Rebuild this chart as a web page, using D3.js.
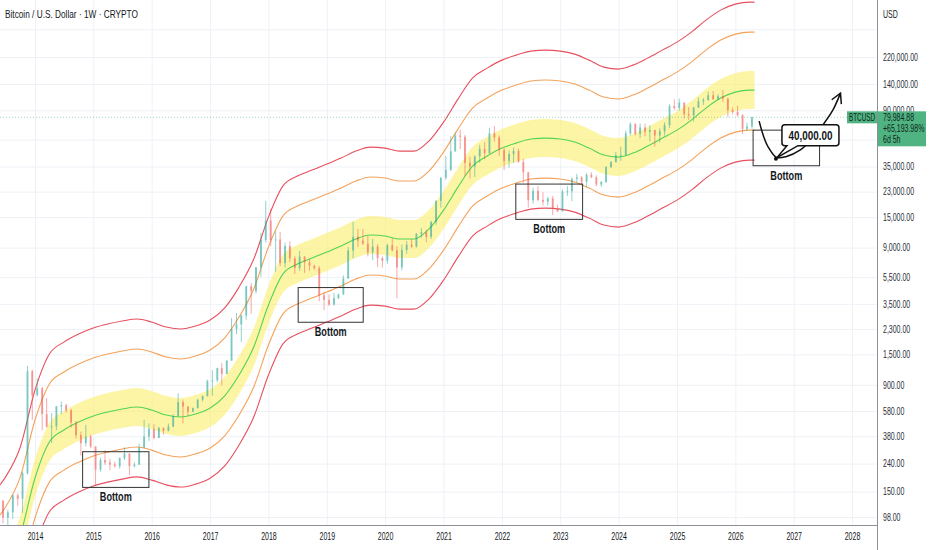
<!DOCTYPE html>
<html lang="en">
<head>
<meta charset="UTF-8">
<title>Bitcoin / U.S. Dollar · 1W · CRYPTO</title>
<script src="https://cdnjs.cloudflare.com/ajax/libs/d3/7.8.5/d3.min.js"></script>
<style>
	body { margin: 0; background: #fff; }
	svg { display: block; font-family: "Liberation Sans", Arial, sans-serif; }
	.axis path { display: none; }
	.axis text { fill: #2a2e39; font-size: 10.5px; }
	.grid line { stroke: #eef1f6; }
	.grid path { display: none; }
	.note { font-weight: bold; font-size: 13px; fill: #131722; }
</style>
</head>
<body>
<div id="chart"></div>
<script>
	// ---- data ----
	const yearTicks = [2014, 2015, 2016, 2017, 2018, 2019, 2020, 2021, 2022, 2023, 2024, 2025, 2026, 2027, 2028];
	const priceTicks = [98, 150, 240, 380, 580, 900, 1500, 2300, 3500, 5500, 9000, 15000, 23000, 35000, 90000, 140000, 220000];
	const gridOnly = [55000, 350000];

	// band indicator, sampled every quarter
	const bandDates = ["2013-05-01","2013-07-01","2013-10-01","2014-01-01","2014-04-01","2014-07-01","2014-10-01",
		"2015-01-01","2015-04-01","2015-07-01","2015-10-01","2016-01-01","2016-04-01","2016-07-01","2016-10-01",
		"2017-01-01","2017-04-01","2017-07-01","2017-10-01","2018-01-01","2018-04-01","2018-07-01","2018-10-01",
		"2019-01-01","2019-04-01","2019-07-01","2019-10-01","2020-01-01","2020-04-01","2020-07-01","2020-10-01",
		"2021-01-01","2021-04-01","2021-07-01","2021-10-01","2022-01-01","2022-04-01","2022-07-01","2022-10-01",
		"2023-01-01","2023-04-01","2023-07-01","2023-10-01","2024-01-01","2024-04-01","2024-07-01","2024-10-01",
		"2025-01-01","2025-04-01","2025-07-01","2025-10-01","2026-01-01","2026-04-01","2026-05-01"];
	const midLine = [35.2, 43.8, 72.5, 188.5, 344.7, 421.4, 482.1, 533.1, 570.2, 599.6, 620.1, 589.6, 542.2, 524.4, 551.3,
		609.8, 745.7, 1060, 1696, 3430, 5769, 6822, 7544, 8343, 9226, 10375, 11095, 10910, 10375, 10375, 12269,
		16876, 24808, 35290, 41740, 47730, 51900, 55520, 56460, 55520, 52780, 47730, 42450, 41050, 43890, 49350, 56460,
		64530, 76330, 93350, 110400, 122050, 126250, 126250];
	const yellowTop = [48.4, 60.2, 99.7, 259, 474, 579, 663, 733, 784, 824, 853, 811, 746, 721, 758,
		838, 1025, 1458, 2332, 4716, 7932, 9380, 10373, 11472, 12686, 14266, 15256, 15001, 14266, 14266, 16870,
		23205, 34111, 48524, 57393, 65629, 71363, 76340, 77633, 76340, 72573, 65629, 58369, 56444, 60349, 67856, 77633,
		88729, 104954, 128356, 151800, 167819, 173594, 173594];
	const yellowBottom = [25.6, 31.9, 52.7, 137, 251, 306, 351, 388, 415, 436, 451, 429, 394, 381, 401,
		443, 542, 771, 1233, 2495, 4196, 4962, 5487, 6068, 6710, 7546, 8069, 7935, 7546, 7546, 8923,
		12274, 18043, 25666, 30357, 34714, 37747, 40380, 41063, 40380, 38387, 34714, 30874, 29856, 31921, 35892, 41063,
		46933, 55515, 67894, 80294, 88767, 91821, 91821];
	const orangeTop = [93.1, 116, 192, 499, 912, 1115, 1276, 1411, 1509, 1587, 1641, 1560, 1435, 1388, 1459,
		1614, 1973, 2805, 4488, 9076, 15265, 18051, 19961, 22076, 24412, 27452, 29357, 28868, 27452, 27452, 32464,
		44654, 65642, 93377, 110444, 126294, 137327, 146906, 149393, 146906, 139656, 126294, 112323, 108618, 116133, 130580, 149393,
		170746, 201969, 247004, 292118, 322944, 334058, 334058];
	const orangeBottom = [18.0, 22.4, 37.1, 96.4, 176, 215, 246, 273, 291, 307, 317, 301, 277, 268, 282,
		312, 381, 542, 867, 1753, 2949, 3487, 3856, 4265, 4716, 5304, 5672, 5577, 5304, 5304, 6272,
		8627, 12682, 18040, 21338, 24400, 26531, 28382, 28862, 28382, 26981, 24400, 21700, 20985, 22437, 25228, 28862,
		32988, 39020, 47721, 56436, 62392, 64539, 64539];
	const redTop = [154, 192, 317, 824, 1508, 1843, 2109, 2332, 2494, 2623, 2712, 2579, 2372, 2294, 2411,
		2667, 3262, 4636, 7418, 15003, 25234, 29839, 32997, 36492, 40355, 45380, 48530, 47720, 45380, 45380, 53665,
		73816, 108510, 154358, 182571, 208771, 227011, 242844, 246956, 242844, 230860, 208771, 185676, 179553, 191975, 215857, 246956,
		282254, 333867, 408313, 482890, 533847, 552218, 552218];
	const redBottom = [10.9, 13.5, 22.4, 58.2, 107, 130, 149, 165, 176, 185, 192, 182, 168, 162, 170,
		188, 230, 328, 524, 1060, 1783, 2108, 2331, 2578, 2851, 3206, 3428, 3371, 3206, 3206, 3791,
		5215, 7666, 10905, 12898, 14749, 16037, 17156, 17446, 17156, 16309, 14749, 13118, 12684, 13562, 15249, 17446,
		19940, 23586, 28845, 34114, 37713, 39011, 39011];

	// monthly candles, May 2013 .. Apr 2026 (open = previous close)
	const firstOpen = 139;
	const closes = [129, 97, 106, 141, 133, 204, 1130, 757,
		850, 550, 445, 448, 628, 640, 586, 478, 387, 338, 378, 320,
		217, 255, 244, 236, 230, 263, 284, 230, 236, 314, 378, 430,
		369, 437, 416, 448, 531, 673, 624, 574, 609, 700, 743, 963,
		970, 1190, 1080, 1350, 2300, 2480, 2875, 4700, 4340, 6470, 10230, 14150,
		10200, 10300, 6930, 9240, 7500, 6390, 7730, 7030, 6630, 6370, 4040, 3740,
		3460, 3850, 4100, 5350, 8570, 10800, 10100, 9600, 8300, 9150, 7550, 7200,
		9350, 8600, 6440, 8650, 9450, 9140, 11350, 11650, 10780, 13800, 19700, 29000,
		33100, 45200, 58900, 57700, 37300, 35000, 41500, 47100, 43800, 61300, 57000, 46200,
		38500, 43200, 45500, 37700, 31800, 19900, 23300, 20000, 19400, 20500, 17200, 16500,
		23100, 23100, 28500, 29200, 27200, 30500, 29200, 25900, 27000, 34700, 37700, 42300,
		42600, 61100, 71300, 60600, 67500, 62700, 64600, 58900, 63300, 70200, 96400, 93400,
		102400, 84300, 82500, 94200, 104600, 107100, 115700, 108200, 114000, 109500, 90400, 87500,
		83000, 66000, 68500, 79984.88];
	const highs = [140, 130, 111, 142, 145, 210, 1240, 1160,
		1000, 870, 720, 560, 630, 680, 655, 600, 490, 410, 460, 390,
		320, 265, 300, 260, 248, 267, 315, 285, 245, 335, 500, 470,
		465, 444, 440, 470, 550, 780, 700, 630, 615, 710, 755, 980,
		1150, 1200, 1300, 1360, 2760, 3000, 2920, 4750, 4980, 6480, 11500, 19700,
		17200, 11800, 11700, 9800, 9990, 7760, 8500, 7760, 7400, 6750, 6600, 4300,
		4100, 4200, 4150, 5640, 9100, 13900, 12300, 12300, 10900, 10400, 9500, 7750,
		9580, 10500, 9200, 9450, 10070, 10400, 11450, 12470, 12100, 14100, 19900, 29300,
		41900, 58300, 61700, 64800, 59500, 41300, 42300, 50500, 52900, 67000, 69000, 59000,
		47900, 45800, 48200, 47400, 39900, 31900, 24600, 25200, 22700, 21000, 21400, 18400,
		23900, 25200, 29200, 31000, 29800, 31400, 31800, 30200, 27500, 35200, 38400, 44700,
		48900, 64000, 73800, 72800, 72000, 72000, 70000, 65100, 66500, 73600, 99800, 108300,
		109600, 102500, 95000, 95700, 111900, 110500, 123200, 124400, 117900, 126200, 111000, 94500,
		97000, 84000, 73000, 81000];
	const lows = [85, 88, 65, 95, 118, 105, 200, 500,
		740, 420, 440, 340, 420, 550, 565, 440, 365, 275, 320, 310,
		165, 210, 235, 215, 225, 220, 255, 198, 225, 235, 310, 350,
		360, 368, 390, 412, 440, 530, 470, 535, 570, 605, 680, 740,
		750, 940, 890, 1080, 1350, 2100, 1840, 2680, 2970, 4160, 5500, 9800,
		9200, 6000, 6600, 6440, 7040, 5780, 6070, 5880, 6100, 6200, 3650, 3150,
		3380, 3400, 3800, 4090, 5330, 7500, 9100, 9400, 7750, 7300, 6500, 6420,
		6850, 8450, 3850, 6150, 8100, 8900, 9000, 10600, 9850, 10400, 13200, 17600,
		28100, 32400, 45000, 47000, 30000, 28800, 29300, 37300, 39600, 43300, 53300, 42000,
		33000, 34300, 37200, 37600, 26700, 17600, 18800, 19600, 18200, 18200, 15500, 16300,
		16500, 21400, 19600, 26900, 25900, 24800, 28900, 25200, 24900, 26600, 34100, 37600,
		38500, 41900, 59000, 59100, 56500, 58400, 53500, 49000, 52500, 58900, 66800, 90500,
		89200, 78200, 76600, 74500, 93400, 98200, 105100, 107300, 107300, 103500, 80600, 84000,
		81000, 60500, 63500, 66000];
	const lastPrice = 79984.88;
	const lastChange = "+65,193.98%";
	const lastTimer = "6d 5h";

	// "Bottom" boxes: [start, end], [top price, bottom price]
	const boxStarts = ["2014-10-26", "2018-07-06", "2022-03-29", "2026-04-22"];
	const boxEnds = ["2015-12-15", "2019-08-17", "2023-05-21", "2027-06-12"];
	const boxTops = [293, 4600, 26100, 64500];
	const boxBottoms = [161, 2570, 14440, 35500];

	// projected path and target
	const pathDates = ["2026-05-30","2026-06-24","2026-07-25","2026-09-16","2026-11-17","2027-02-09","2027-05-01","2027-07-02","2027-09-03","2027-10-21"];
	const pathPrices = [75000, 59350, 48770, 40800, 41500, 46150, 56400, 70200, 90230, 120050];
	const targetDate = "2026-09-12";
	const targetPrice = 40000;

	// ---- layout ----
	const W = 932, H = 550;
	const plotRight = 877, plotBottom = 525;
	const parse = d3.timeParse("%Y-%m-%d");

	// narrow the glyphs horizontally (the original uses a condensed face)
	function squeeze(sel, f) {
		sel.each(function() {
			const x0 = +this.getAttribute("x") || 0;
			this.setAttribute("x", 0);
			this.setAttribute("transform", `translate(${x0},0) scale(${f},1)`);
		});
	}
	function fitWidth(sel, width) {
		sel.each(function() {
			const w = this.getComputedTextLength();
			d3.select(this).call(squeeze, width / w);
		});
	}

	const x = d3.scaleTime()
		.domain([new Date(2014, 0, 1), new Date(2028, 0, 1)])
		.range([35, 852]);
	const y = d3.scaleLog()
		.domain([98, 220000])
		.range([517, 57]);

	const svg = d3.select("#chart").append("svg")
		.attr("width", W)
		.attr("height", H);
	svg.append("rect").attr("width", W).attr("height", H).attr("fill", "#fff");

	svg.append("defs").append("clipPath").attr("id", "plot")
		.append("rect").attr("x", 0).attr("y", 0).attr("width", plotRight).attr("height", plotBottom);

	// grid
	const yearDates = yearTicks.map(d => new Date(d, 0, 1));
	svg.append("g").attr("class", "grid")
		.attr("transform", `translate(0,${plotBottom})`)
		.call(d3.axisBottom(x).tickValues(yearDates).tickSize(-plotBottom).tickFormat(""));
	svg.append("g").attr("class", "grid")
		.attr("transform", `translate(${plotRight},0)`)
		.call(d3.axisRight(y).tickValues(priceTicks.concat(gridOnly)).tickSize(-plotRight).tickFormat(""));

	const plot = svg.append("g").attr("clip-path", "url(#plot)");

	// band indicator
	const bands = bandDates.map((d, i) => ({
		date: parse(d), mid: midLine[i], yt: yellowTop[i], yb: yellowBottom[i],
		ot: orangeTop[i], ob: orangeBottom[i], rt: redTop[i], rb: redBottom[i]
	}));

	plot.append("path")
		.datum(bands)
		.attr("fill", "#fbee6a")
		.attr("fill-opacity", 0.6)
		.attr("d", d3.area().curve(d3.curveMonotoneX)
			.x(d => x(d.date)).y0(d => y(d.yb)).y1(d => y(d.yt)));

	const bandLines = [
		{ key: "rt", color: "#e8505e" },
		{ key: "rb", color: "#e8505e" },
		{ key: "ot", color: "#f5a25a" },
		{ key: "ob", color: "#f5a25a" },
		{ key: "mid", color: "#52d452" }
	];
	bandLines.forEach(b => {
		plot.append("path")
			.datum(bands)
			.attr("fill", "none")
			.attr("stroke", b.color)
			.attr("stroke-width", 1.1)
			.attr("d", d3.line().curve(d3.curveMonotoneX)
				.x(d => x(d.date)).y(d => y(d[b.key])));
	});

	// candles
	const months = d3.timeMonth.range(new Date(2013, 4, 1), new Date(2026, 4, 1));
	const candles = months.map((m, i) => ({
		date: d3.timeDay.offset(m, 14),
		open: i === 0 ? firstOpen : closes[i - 1],
		close: closes[i], high: highs[i], low: lows[i]
	}));
	const upColor = "#26a69a", downColor = "#ef5350";
	const cg = plot.append("g").attr("opacity", 0.62);
	cg.selectAll(".wick")
		.data(candles)
		.enter().append("line")
		.attr("class", "wick")
		.attr("x1", d => x(d.date)).attr("x2", d => x(d.date))
		.attr("y1", d => y(d.high)).attr("y2", d => y(d.low))
		.attr("stroke", d => d.close >= d.open ? upColor : downColor)
		.attr("stroke-width", 0.8);
	cg.selectAll(".body")
		.data(candles)
		.enter().append("rect")
		.attr("class", "body")
		.attr("x", d => x(d.date) - 0.9)
		.attr("width", 1.8)
		.attr("y", d => y(Math.max(d.open, d.close)))
		.attr("height", d => Math.max(1, Math.abs(y(d.open) - y(d.close))))
		.attr("fill", d => d.close >= d.open ? upColor : downColor);

	// last price line
	plot.append("line")
		.attr("x1", 0).attr("x2", plotRight)
		.attr("y1", y(lastPrice)).attr("y2", y(lastPrice))
		.attr("stroke", "#4caf82")
		.attr("stroke-opacity", 0.5)
		.attr("stroke-dasharray", "1,2");

	// bottom boxes
	const notes = svg.append("g");
	boxStarts.forEach((s, i) => {
		const x0 = x(parse(s)), x1 = x(parse(boxEnds[i]));
		const y0 = y(boxTops[i]), y1 = y(boxBottoms[i]);
		notes.append("rect")
			.attr("x", x0).attr("y", y0)
			.attr("width", x1 - x0).attr("height", y1 - y0)
			.attr("fill", "none")
			.attr("stroke", "#333")
			.attr("stroke-width", 1);
		notes.append("text")
			.attr("class", "note")
			.attr("x", (x0 + x1) / 2)
			.attr("y", y1 + 14)
			.attr("text-anchor", "middle")
			.text("Bottom")
			.call(fitWidth, 32);
	});

	// projected path with arrow
	const pathPts = pathDates.map((d, i) => [x(parse(d)), y(pathPrices[i])]);
	notes.append("path")
		.attr("d", d3.line().curve(d3.curveCatmullRom)(pathPts))
		.attr("fill", "none")
		.attr("stroke", "#111")
		.attr("stroke-width", 1.5);
	const tip = pathPts[pathPts.length - 1], prev = pathPts[pathPts.length - 2];
	const ang = Math.atan2(tip[1] - prev[1], tip[0] - prev[0]);
	const head = [ang + Math.PI - 0.5, ang + Math.PI + 0.5].map(a => [tip[0] + 11 * Math.cos(a), tip[1] + 11 * Math.sin(a)]);
	notes.append("path")
		.attr("d", `M${head[0][0]},${head[0][1]}L${tip[0]},${tip[1]}L${head[1][0]},${head[1][1]}`)
		.attr("fill", "none")
		.attr("stroke", "#111")
		.attr("stroke-width", 1.5);

	// target callout
	const tx = x(parse(targetDate)), ty = y(targetPrice);
	const L = tx + 6, R = tx + 63, T = ty - 34, B = ty - 13;
	notes.append("path")
		.attr("d", `M${L + 3},${T}H${R - 3}Q${R},${T} ${R},${T + 3}V${B - 3}Q${R},${B} ${R - 3},${B}` +
			`H${L + 16}L${tx + 1},${ty - 1}L${L + 5},${B}H${L + 3}Q${L},${B} ${L},${B - 3}V${T + 3}Q${L},${T} ${L + 3},${T}Z`)
		.attr("fill", "#fff")
		.attr("stroke", "#111")
		.attr("stroke-width", 1.5);
	notes.append("text")
		.attr("class", "note")
		.style("font-size", "12.5px")
		.attr("x", (L + R) / 2)
		.attr("y", (T + B) / 2 + 4.5)
		.attr("text-anchor", "middle")
		.text(d3.format(",.2f")(targetPrice))
		.call(fitWidth, 44);
	notes.append("circle")
		.attr("cx", tx).attr("cy", ty).attr("r", 2)
		.attr("fill", "#111");

	// axes
	svg.append("line")
		.attr("x1", 0).attr("x2", plotRight)
		.attr("y1", plotBottom + 0.5).attr("y2", plotBottom + 0.5)
		.attr("stroke", "#8d9099");
	svg.append("line")
		.attr("x1", plotRight + 0.5).attr("x2", plotRight + 0.5)
		.attr("y1", 0).attr("y2", H)
		.attr("stroke", "#8d9099");

	const yAxis = svg.append("g")
		.attr("class", "axis")
		.attr("transform", `translate(${plotRight},0)`)
		.call(d3.axisRight(y).tickValues(priceTicks).tickSize(0).tickPadding(6).tickFormat(d3.format(",.2f")));
	// narrow factor from the widest label (220,000.00 is ~35px wide)
	const widest = yAxis.selectAll("text").filter(d => d === 220000).node().getComputedTextLength();
	const narrow = 35 / widest;
	squeeze(yAxis.selectAll("text"), narrow);

	const xAxis = svg.append("g")
		.attr("class", "axis")
		.attr("transform", `translate(0,${plotBottom})`)
		.call(d3.axisBottom(x).tickValues(yearDates).tickSize(0).tickPadding(8).tickFormat(d3.timeFormat("%Y")));
	xAxis.selectAll("text").style("fill", "#131722");
	squeeze(xAxis.selectAll("text"), narrow);

	svg.append("text")
		.attr("x", 883).attr("y", 18)
		.style("font-size", "10.5px").style("fill", "#131722")
		.text("USD")
		.call(squeeze, narrow);

	// last price labels
	const ly = y(lastPrice);
	const tagColor = "#4fb382";
	svg.append("rect")
		.attr("x", 847).attr("y", ly - 6).attr("width", 30).attr("height", 12)
		.attr("fill", tagColor);
	svg.append("text")
		.attr("x", 862).attr("y", ly + 3.5)
		.attr("text-anchor", "middle")
		.style("font-size", "10px").style("fill", "#10261a")
		.text("BTCUSD")
		.call(fitWidth, 26);
	svg.append("rect")
		.attr("x", 878).attr("y", ly - 6).attr("width", 48).attr("height", 35)
		.attr("fill", tagColor);
	[d3.format(",.2f")(lastPrice), lastChange, lastTimer].forEach((t, i) => {
		svg.append("text")
			.attr("x", 883).attr("y", ly + 3.5 + i * 11)
			.style("font-size", "10.5px").style("fill", "#10261a")
			.text(t)
			.call(squeeze, narrow);
	});

	// legend title
	svg.append("text")
		.attr("x", 5).attr("y", 18.5)
		.style("font-size", "11px").style("fill", "#131722")
		.text("Bitcoin / U.S. Dollar · 1W · CRYPTO")
		.call(fitWidth, 133);
</script>
</body>
</html>
